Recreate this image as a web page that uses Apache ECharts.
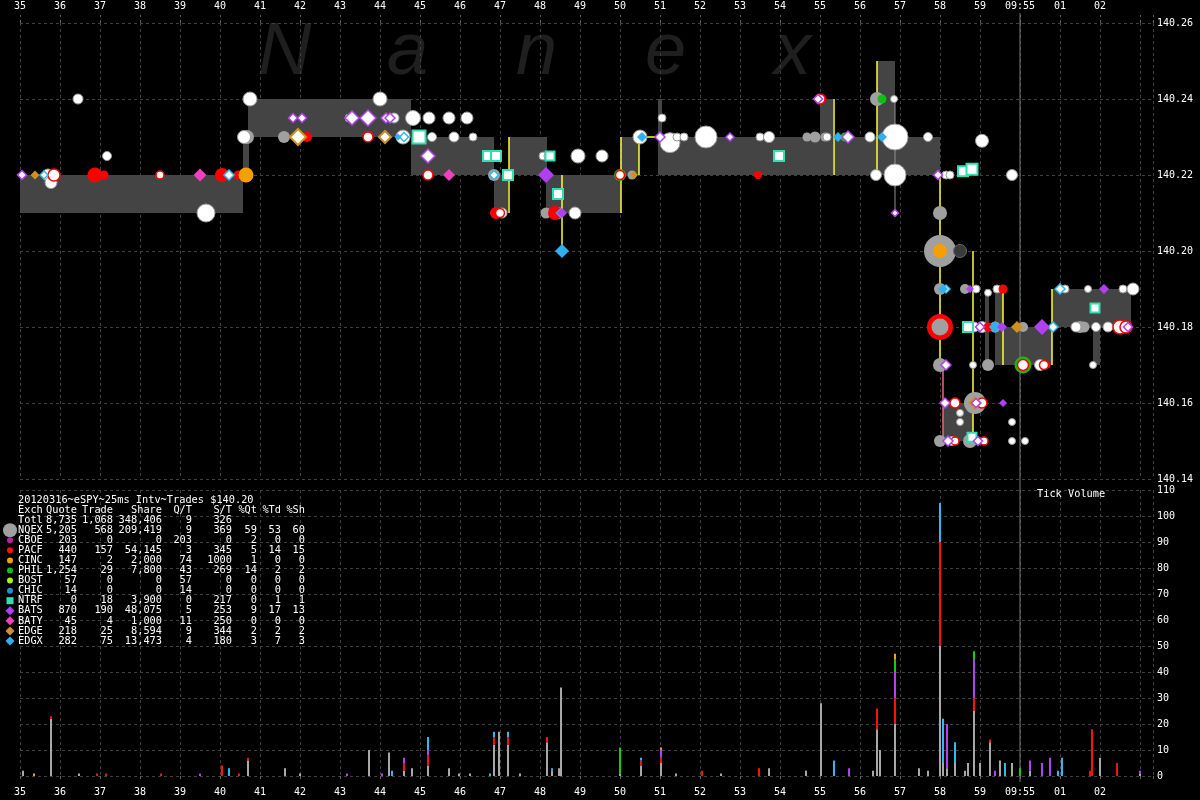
<!DOCTYPE html>
<html><head><meta charset="utf-8">
<script src="https://cdn.jsdelivr.net/npm/echarts@6/dist/echarts.min.js"></script>
<style>html,body{margin:0;padding:0;background:#000;}#c{width:1200px;height:800px;}</style>
</head><body><div id="c"></div>
<script>
// ---------- tick labels (seconds after 09:54:35) ----------
const tickLabels = ['35','36','37','38','39','40','41','42','43','44','45','46','47','48','49','50','51','52','53','54','55','56','57','58','59','09:55','01','02'];
const minuteMark = 25;
const priceTicks = [140.14, 140.26, 0.02];
const volTicks = [0, 110, 10];

// ---------- spread boxes [t0, t1, low, high] ----------
const spreadBoxes = [
  [0, 5.575, 140.21, 140.22], [5.575, 5.725, 140.22, 140.23], [5.7, 9.775, 140.23, 140.24],
  [9.775, 11.85, 140.22, 140.23], [11.85, 12.2, 140.21, 140.22], [12.225, 13.175, 140.22, 140.23],
  [13.15, 15.025, 140.21, 140.22], [15.025, 15.475, 140.22, 140.23], [15.95, 16.05, 140.23, 140.24],
  [15.95, 20.05, 140.22, 140.23], [20.0, 20.325, 140.22, 140.24], [20.35, 21.425, 140.22, 140.23],
  [21.425, 21.875, 140.22, 140.25], [21.875, 23.0, 140.22, 140.23], [23.075, 23.825, 140.15, 140.16],
  [24.125, 24.225, 140.17, 140.19], [24.375, 24.575, 140.17, 140.19], [24.575, 25.8, 140.17, 140.18],
  [25.8, 27.775, 140.18, 140.19], [26.825, 27.0, 140.17, 140.18]
];
// ---------- locked/crossed lines [t0, p0, t1, p1] ----------
const yellowLines = [
  [12.225, 140.23, 12.225, 140.21], [13.55, 140.22, 13.55, 140.20], [15.025, 140.23, 15.025, 140.21],
  [15.475, 140.2285, 15.475, 140.22], [15.6, 140.23, 15.95, 140.23], [20.35, 140.24, 20.35, 140.22],
  [21.425, 140.25, 21.425, 140.22], [23.0, 140.22, 23.0, 140.17], [23.825, 140.20, 23.825, 140.151],
  [24.575, 140.19, 24.575, 140.17], [25.8, 140.19, 25.8, 140.17]
];
const pinkLines = [[23.075, 140.17, 23.075, 140.15]];
const grayLines = [[21.875, 140.24, 21.875, 140.21]];

// ---------- markers [t, price, size] ----------
const nqexGray = [
  [5.675,140.23,14],[6.6,140.23,12],[11.85,140.22,12],[13.15,140.21,11],[13.45,140.21,12],[15.3,140.22,9],
  [19.675,140.23,9],[19.875,140.23,11],[20.125,140.23,9],[21.425,140.24,14],[23.0,140.21,14],
  [23.0,140.20,32],[23.0,140.19,12],[23.0,140.18,17],[23.0,140.17,14],[23.0,140.15,12],[23.875,140.16,22],[23.75,140.15,14],
  [24.2,140.17,12],[24.375,140.18,11],[25.075,140.18,10],[26.5,140.18,12],[26.6,140.18,11],[23.625,140.19,10]
];
const darkGray = [[23.5,140.20,13]];
const pacfRed = [
  [1.875,140.22,15],[2.1,140.22,9],[5.05,140.22,14],[5.45,140.22,9],[7.175,140.23,10],[11.9,140.21,12],
  [13.375,140.21,14],[18.45,140.22,8],[20.05,140.24,9],[24.575,140.19,9],[24.2,140.18,9],[25.675,140.17,7],
  [23.0,140.18,26]
];
const redRings = [
  [0.85,140.22,12],[3.5,140.22,8],[8.7,140.23,10],[10.2,140.22,10],[12.0,140.21,9],[15.0,140.22,9],
  [27.5,140.18,14],[27.65,140.18,12],[25.075,140.17,11],[25.6,140.17,9],[23.375,140.16,10],[24.05,140.16,10],
  [23.375,140.15,8],[24.1,140.15,8],[20.0,140.24,10]
];
const cincOrange = [[5.65,140.22,15],[23.0,140.20,14]];
const philGreen = [[21.55,140.24,9],[20.625,140.23,9],[25.075,140.17,17],[15.0,140.22,12]];
const whiteTrades = [
  [0.7,140.22,12],[0.775,140.218,12],[1.45,140.24,10],[2.175,140.225,9],[4.65,140.21,18],[5.75,140.24,14],
  [5.6,140.23,13],[8.225,140.235,8],[9.0,140.24,14],[9.35,140.235,10],[9.575,140.23,14],[9.825,140.235,15],
  [10.225,140.235,12],[10.3,140.23,9],[10.725,140.235,12],[10.85,140.23,10],[11.175,140.235,12],[11.325,140.23,8],
  [12.05,140.21,10],[13.075,140.225,8],[13.2,140.225,8],[13.95,140.225,14],[14.55,140.225,12],[13.875,140.21,12],
  [15.5,140.23,14],[16.05,140.235,8],[16.25,140.2285,20],[16.425,140.23,8],[16.6,140.23,8],[17.15,140.23,22],
  [18.5,140.23,8],[18.725,140.23,11],[20.175,140.23,8],[21.25,140.23,10],[21.85,140.24,7],
  [21.875,140.23,26],[21.875,140.22,22],[21.4,140.22,11],[22.7,140.23,9],[24.05,140.229,13],[23.15,140.22,8],
  [23.25,140.22,8],[24.8,140.22,11],[24.2,140.189,7],[24.425,140.19,8],[23.825,140.17,7],[23.5,140.1574,7],
  [23.5,140.155,7],[24.8,140.155,7],[24.8,140.15,7],[25.125,140.15,7],[26.825,140.17,7],[26.125,140.19,8],
  [26.7,140.19,7],[27.575,140.19,8],[27.825,140.19,12],[23.85,140.18,10],[24.05,140.18,11],[25.5,140.17,11],
  [26.4,140.18,10],[26.9,140.18,9],[27.2,140.18,10],[23.9,140.19,8],[23.3,140.15,9]
];
const batsPurple = [[13.15,140.22,16],[13.55,140.21,10],[25.55,140.18,16],[27.1,140.19,10],[24.575,140.16,8],[23.75,140.19,8],[24.55,140.18,10]];
const batsOutline = [
  [0.05,140.22,9],[6.825,140.235,9],[7.05,140.235,9],[8.3,140.235,14],[8.7,140.235,16],[9.15,140.235,10],
  [9.25,140.235,10],[10.2,140.225,14],[16.0,140.23,10],[17.75,140.23,8],[20.7,140.23,12],[19.95,140.24,9],
  [21.875,140.21,7],[22.95,140.22,9],[23.15,140.17,10],[23.125,140.16,10],[23.2,140.15,10],[27.7,140.18,9],
  [23.9,140.16,9],[23.95,140.15,9],[24.0,140.18,9]
];
const batyMagenta = [[4.5,140.22,13],[10.725,140.22,12]];
const edgxBlue = [[13.55,140.20,14],[15.55,140.23,10],[20.45,140.23,10],[21.55,140.23,10],[23.075,140.19,10],[24.375,140.18,12],[9.45,140.23,7],[13.5,140.21,9]];
const edgxOutline = [[5.225,140.22,10],[9.6,140.23,9],[11.85,140.22,9],[26.0,140.19,10],[25.825,140.18,10],[0.6,140.22,8],[23.15,140.19,8]];
const edgeGold = [[0.375,140.22,9],[24.925,140.18,12],[23.875,140.16,14],[15.35,140.22,8]];
const edgeOutline = [[6.95,140.23,16],[9.125,140.23,12]];
const ntrfSquares = [
  [9.975,140.23,13],[11.7,140.225,10],[11.9,140.225,10],[12.2,140.22,10],[13.25,140.225,9],[13.45,140.215,10],
  [18.975,140.225,10],[23.575,140.221,10],[23.8,140.2215,11],[23.7,140.18,10],[26.875,140.185,9],[23.8,140.151,9]
];

// ---------- tick volume stacks ----------
const volT      = [0.075,0.35,0.775,1.475,1.925,2.15,3.525,4.5,5.05,5.225,5.475,5.7,6.625,7.0,8.175,8.725,9.05,9.225,9.3,9.6,9.8,10.2,10.725,10.975,11.25,11.75,11.85,11.975,12.2,12.5,13.175,13.3,13.475,13.525,15.0,15.525,16.025,16.4,17.05,17.525,18.475,18.725,19.65,20.025,20.35,20.725,21.325,21.425,21.5,21.875,22.475,22.7,23.0,23.075,23.175,23.375,23.625,23.7,23.85,24.0,24.25,24.375,24.5,24.625,24.8,25.0,25.25,25.55,25.75,25.95,26.05,26.75,26.8,27.0,27.425,28.0];
const volNQEX   = [2,0,22,1,0,0,0,0,0,0,0,6,3,1,0,10,0,9,0,2,3,4,3,1,1,0,12,17,12,1,13,2,3,34,1,4,5,1,0,1,0,3,2,28,0,0,2,18,10,20,3,2,50,5,3,5,2,5,25,5,13,0,6,0,5,0,2,0,0,0,0,0,0,7,0,1];
const volPACF   = [0,0,1,0,1,1,1,0,4,0,1,1,0,0,0,0,0,0,0,3,0,4,0,0,0,0,3,0,3,0,2,0,0,0,0,2,2,0,2,0,3,0,0,0,0,0,0,8,0,10,0,0,40,0,0,0,0,0,5,0,1,0,0,0,0,0,0,0,0,0,0,2,18,0,5,0];
const volBATS   = [0,0,0,0,0,0,0,1,0,0,0,0,0,0,1,0,1,0,0,2,0,2,0,0,0,0,0,0,0,0,0,0,0,0,0,0,3,0,0,0,0,0,0,0,0,3,0,0,0,10,0,0,0,0,17,0,0,0,15,0,0,2,0,0,0,0,4,5,7,0,0,0,0,0,0,1];
const volEDGX   = [0,0,0,0,0,0,0,0,0,3,0,0,0,0,0,0,0,0,2,0,0,5,0,0,0,1,2,0,2,0,0,1,0,0,0,1,0,0,0,0,0,0,0,0,6,0,0,0,0,0,0,0,15,17,0,8,0,0,0,0,0,0,0,5,0,0,0,0,0,2,7,0,0,0,0,0];
const volPHIL   = [0,0,0,0,0,0,0,0,0,0,0,0,0,0,0,0,0,0,0,0,0,0,0,0,0,0,0,0,0,0,0,0,0,0,10,0,0,0,0,0,0,0,0,0,0,0,0,0,0,5,0,0,0,0,0,0,0,0,3,0,0,0,0,0,0,3,0,0,0,0,0,0,0,0,0,0];
const volOther  = [0,1,0,0,0,0,0,0,0,0,0,0,0,0,0,0,0,0,0,0,0,0,0,0,0,0,0,0,0,0,0,0,0,0,0,0,1,0,0,0,0,0,0,0,0,0,0,0,0,2,0,0,0,0,0,0,0,0,0,0,0,0,0,0,0,0,0,0,0,0,0,0,0,0,0,0];
const volColors = ['#a8a8a8','#ff1010','#b040f0','#30b8f0','#10d010','#f0a020'];

// ---------- statistics table ----------
const tableTitle = '20120316~eSPY~25ms Intv~Trades $140.20';
const tableHeader = ['Exch','Quote','Trade','Share','Q/T','S/T','%Qt','%Td','%Sh'];
const exchNames = ['Totl','NQEX','CBOE','PACF','CINC','PHIL','BOST','CHIC','NTRF','BATS','BATY','EDGE','EDGX'];
const colQuote  = ['8,735','5,205','203','440','147','1,254','57','14','0','870','45','218','282'];
const colTrade  = ['1,068','568','0','157','2','29','0','0','18','190','4','25','75'];
const colShare  = ['348,406','209,419','0','54,145','2,000','7,800','0','0','3,900','48,075','1,000','8,594','13,473'];
const colQT     = ['9','9','203','3','74','43','57','14','0','5','11','9','4'];
const colST     = ['326','369','0','345','1000','269','0','0','217','253','250','344','180'];
const colPQt    = ['','59','2','5','1','14','0','0','0','9','0','2','3'];
const colPTd    = ['','53','0','14','0','2','0','0','1','17','0','2','7'];
const colPSh    = ['','60','0','15','0','2','0','0','1','13','0','2','3'];
const legendMarks = [null,['circle','#a0a0a0',14],['circle','#c020a0',6],['circle','#ff1010',6],['circle','#f0a010',6],['circle','#10c010',6],['circle','#b0f010',6],['circle','#2090d0',6],['rect','#30e0b0',7],['diamond','#b040f0',9],['diamond','#f040c0',9],['diamond','#d09030',9],['diamond','#30b0f0',9]];
const watermark = ['N','a','n','e','x'];

// ================= build =================
const chart = echarts.init(document.getElementById('c'), null, {renderer:'canvas'});
const MONO = 'DejaVu Sans Mono';
const gridLine = {show:true, lineStyle:{color:'#404040', type:[3,3], width:1}};

function sc(data, symbol, fill, border, bw, z) {
  return {type:'scatter', data, symbol, symbolSize:d=>d[2], xAxisIndex:0, yAxisIndex:0, z,
    itemStyle:{color:fill, borderColor:border, borderWidth:bw, opacity:1}, silent:true, animation:false, emphasis:{disabled:true}};
}
function segSeries(data, color, width, z, xi, yi) {
  return {type:'custom', xAxisIndex:xi||0, yAxisIndex:yi||0, z, silent:true, animation:false, data,
    encode:{x:[0,2], y:[1,3]},
    renderItem:(p, api) => {
      const a = api.coord([api.value(0), api.value(1)]), b = api.coord([api.value(2), api.value(3)]);
      return {type:'line', shape:{x1:a[0], y1:a[1], x2:b[0], y2:b[1]}, style:{stroke:color, lineWidth:width}};
    }};
}
const boxSeries = {type:'custom', xAxisIndex:0, yAxisIndex:0, z:1, silent:true, animation:false, data:spreadBoxes,
  encode:{x:[0,1], y:[2,3]},
  renderItem:(p, api) => {
    const a = api.coord([api.value(0), api.value(3)]), b = api.coord([api.value(1), api.value(2)]);
    return {type:'rect', shape:{x:a[0], y:a[1], width:b[0]-a[0], height:b[1]-a[1]}, style:{fill:'#444444'}};
  }};
const volData = volT.map((t,i)=>[t, volNQEX[i], volPACF[i], volBATS[i], volEDGX[i], volPHIL[i], volOther[i]]);
const volSeries = {type:'custom', xAxisIndex:1, yAxisIndex:1, z:3, silent:true, animation:false, data:volData,
  encode:{x:0, y:1},
  renderItem:(p, api) => {
    const t = api.value(0); let base = 0; const ch = [];
    for (let k=1;k<=6;k++) {
      const v = api.value(k);
      if (v > 0) {
        const a = api.coord([t, base]), b = api.coord([t, base+v]);
        ch.push({type:'rect', shape:{x:a[0]-1, y:b[1], width:2, height:a[1]-b[1]}, style:{fill:volColors[k-1]}});
        base += v;
      }
    }
    return {type:'group', children:ch};
  }};
const minuteTop = {type:'custom', xAxisIndex:0, yAxisIndex:0, z:2, silent:true, animation:false, data:[[minuteMark]],
  encode:{x:0},
  renderItem:(p, api) => {
    const a = api.coord([api.value(0), priceTicks[1]]), b = api.coord([api.value(0), priceTicks[0]]);
    return {type:'line', shape:{x1:a[0], y1:a[1]-10, x2:b[0], y2:b[1]+11}, style:{stroke:'#7a7a7a', lineWidth:1}};
  }};
const minuteBot = {type:'custom', xAxisIndex:1, yAxisIndex:1, z:2, silent:true, animation:false, data:[[minuteMark]],
  encode:{x:0},
  renderItem:(p, api) => {
    const a = api.coord([api.value(0), volTicks[1]]), b = api.coord([api.value(0), volTicks[0]]);
    return {type:'line', shape:{x1:a[0], y1:a[1], x2:b[0], y2:b[1]+6}, style:{stroke:'#7a7a7a', lineWidth:1}};
  }};

// graphics: watermark + table
const graphics = [];
watermark.forEach((ch,i)=>{
  graphics.push({type:'text', left:258+i*129, top:16, silent:true, z:0,
    style:{text:ch, fill:'#1f1f1f', font:'italic 74px "Liberation Sans"'}});
});
const rowY = i => 500 + i*10.07;
const tfont = '10.3px "DejaVu Sans Mono"';
function txt(s, x, y, align) { graphics.push({type:'text', x, y, silent:true, z:10, style:{text:s, fill:'#ffffff', font:tfont, textAlign:align, textVerticalAlign:'middle'}}); }
txt(tableTitle, 18, rowY(0), 'left');
const colRight = [77, 113, 162, 192, 232, 257, 281, 305];
txt(tableHeader[0], 18, rowY(1), 'left');
tableHeader.slice(1).forEach((h,j)=>txt(h, colRight[j], rowY(1), 'right'));
const cols = [colQuote, colTrade, colShare, colQT, colST, colPQt, colPTd, colPSh];
exchNames.forEach((n,i)=>{
  const y = rowY(i+2);
  txt(n, 18, y, 'left');
  cols.forEach((c,j)=>{ if (c[i] !== '') txt(c[i], colRight[j], y, 'right'); });
  const m = legendMarks[i];
  if (m) {
    const s = m[2];
    if (m[0]==='circle') graphics.push({type:'circle', shape:{cx:10, cy:y, r:s/2}, style:{fill:m[1]}, z:10, silent:true});
    else if (m[0]==='rect') graphics.push({type:'rect', shape:{x:10-s/2, y:y-s/2, width:s, height:s}, style:{fill:m[1]}, z:10, silent:true});
    else graphics.push({type:'polygon', shape:{points:[[10,y-s/2],[10+s/2,y],[10,y+s/2],[10-s/2,y]]}, style:{fill:m[1]}, z:10, silent:true});
  }
});
graphics.push({type:'text', x:1037, y:494, silent:true, z:10, style:{text:'Tick Volume', fill:'#ffffff', font:tfont, textVerticalAlign:'middle'}});

const xCommon = {type:'value', min:0, max:28.325, interval:1, splitLine:gridLine, axisLine:{show:false},
  axisLabel:{color:'#ffffff', fontFamily:MONO, fontSize:10, formatter:v=>tickLabels[v]!==undefined?tickLabels[v]:''}};

chart.setOption({
  backgroundColor:'#000000',
  animation:false,
  graphic:graphics,
  grid:[{left:20, right:47, top:23, height:456}, {left:20, right:47, top:490, height:286}],
  xAxis:[
    Object.assign({}, xCommon, {gridIndex:0, position:'top', axisTick:{show:true, length:8, lineStyle:{color:'#606060', type:[3,3]}}, axisLabel:Object.assign({}, xCommon.axisLabel, {margin:12})}),
    Object.assign({}, xCommon, {gridIndex:1, position:'bottom', axisTick:{show:true, length:6, lineStyle:{color:'#606060', type:[3,3]}}, axisLabel:Object.assign({}, xCommon.axisLabel, {margin:11})})
  ],
  yAxis:[
    {type:'value', gridIndex:0, position:'right', min:priceTicks[0], max:priceTicks[1], interval:priceTicks[2],
      splitLine:gridLine, axisLine:{show:false}, axisTick:{show:false},
      axisLabel:{color:'#ffffff', fontFamily:MONO, fontSize:10, margin:4, formatter:v=>v.toFixed(2)}},
    {type:'value', gridIndex:1, position:'right', min:volTicks[0], max:volTicks[1], interval:volTicks[2],
      splitLine:gridLine, axisLine:{show:false}, axisTick:{show:false},
      axisLabel:{color:'#ffffff', fontFamily:MONO, fontSize:10, margin:4}}
  ],
  series:[
    boxSeries,
    minuteTop, minuteBot,
    segSeries(yellowLines, '#ffff30', 1.5, 2),
    segSeries(pinkLines, '#e07070', 1.5, 2),
    segSeries(grayLines, '#909090', 1, 2),
    sc(pacfRed.filter(d=>d[2]>=20), 'circle', '#ff0000', '#ff0000', 0, 3),
    sc(nqexGray, 'circle', '#a0a0a0', '#a0a0a0', 0, 4),
    sc(darkGray, 'circle', '#3a3a3a', '#6a6a6a', 1, 4),
    sc(philGreen, 'circle', '#10c010', '#10c010', 0, 5),
    sc(whiteTrades, 'circle', '#ffffff', '#9a9a9a', 1, 5),
    sc(pacfRed.filter(d=>d[2]<20), 'circle', '#ff0000', '#ff0000', 0, 6),
    sc(redRings, 'circle', '#ffffff', '#ff0000', 1.5, 6),
    sc(cincOrange, 'circle', '#f5a000', '#f5a000', 0, 7),
    sc(ntrfSquares, 'rect', '#ffffff', '#30e0b0', 2, 7),
    sc(edgeGold, 'diamond', '#d09020', '#d09020', 0, 8),
    sc(edgeOutline, 'diamond', '#ffffff', '#d09020', 2, 8),
    sc(edgxOutline, 'diamond', '#ffffff', '#30b8f0', 1.5, 8),
    sc(edgxBlue, 'diamond', '#30b0f0', '#30b0f0', 0, 9),
    sc(batyMagenta, 'diamond', '#f040c0', '#f040c0', 0, 9),
    sc(batsOutline, 'diamond', '#ffffff', '#b040f0', 1.5, 9),
    sc(batsPurple, 'diamond', '#b040f0', '#b040f0', 0, 10),
    volSeries
  ]
});
</script></body></html>
